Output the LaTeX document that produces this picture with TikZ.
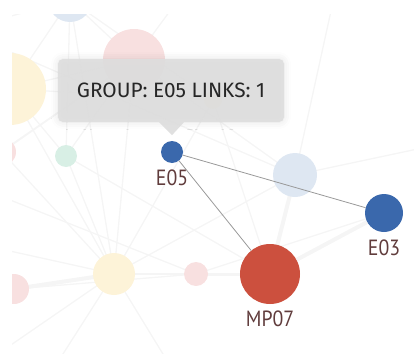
\documentclass[tikz,border=0pt]{standalone}
\usepackage{fontspec}
\setmainfont{Fira Sans}
\newfontfamily\lblfont[FakeStretch=0.9]{PT Sans}
\usetikzlibrary{positioning,calc,shadows.blur}
\definecolor{nblue}{RGB}{58,104,172}
\definecolor{nred}{RGB}{204,80,62}
\definecolor{fyellow}{RGB}{253,243,216}
\definecolor{fpink}{RGB}{248,224,224}
\definecolor{fblue}{RGB}{222,231,242}
\definecolor{fgreen}{RGB}{216,239,229}
\definecolor{tipgray}{RGB}{222,222,222}
\definecolor{lblcol}{RGB}{96,60,60}
\definecolor{fline}{RGB}{245,245,245}

\begin{document}
\begin{tikzpicture}[x=1pt, y=-1pt,
fnode/.style={circle, inner sep=0pt},
mnode/.style={circle, inner sep=0pt},
lbl/.style={font=\lblfont\fontsize{22}{22}\selectfont, text=lblcol, inner sep=0pt},
fedge/.style={draw=fline, line width=1.3pt},
link/.style={draw=black!40, line width=0.8pt},
tip/.style={fill=tipgray, fill opacity=0.93, text opacity=1, rounded corners=5pt, minimum width=226pt, minimum height=63pt, inner sep=0pt, font=\fontsize{20.8}{20.8}\selectfont, text=black!85, blur shadow={shadow xshift=0pt, shadow yshift=0pt, shadow blur radius=7pt, shadow opacity=12}}]
\useasboundingbox (0,0) rectangle (414,353);
\begin{scope}
\clip (12,15) rectangle (414,353);
% faded nodes behind the highlight
\coordinate (o1) at (-40,30);
\coordinate (o2) at (-40,240);
\coordinate (o3) at (40,390);
\coordinate (o4) at (185,390);
\coordinate (o5) at (340,-30);
\coordinate (o6) at (200,-30);
\coordinate (o7) at (-40,380);
\coordinate (o8) at (460,140);
\coordinate (o9) at (-40,180);
\coordinate (fa) at (70,0);
\coordinate (fb) at (134,60);
\coordinate (fc) at (10,89);
\coordinate (fd) at (2,152);
\coordinate (fe) at (66,156);
\coordinate (ff) at (213,100);
\coordinate (fg) at (295,175);
\coordinate (fh) at (114,274);
\coordinate (fi) at (196,274);
\coordinate (fj) at (14,289);
\coordinate (fm) at (270,274);
\coordinate (fn) at (384,213);
\foreach \s/\t in {fa/fc,fa/fb,fa/fe,fa/o1,fa/fh,fb/fc,fb/fe,fb/fh,fb/fg,fb/o9,fb/o6,fb/fd,
  fc/fh,fc/fe,fc/ff,fe/fh,fh/o2,fh/o3,fh/o4,fh/fi,fh/fg,fh/o7,fi/fj,fd/fh,fg/o5,fg/o8,
  ff/fm,ff/fh,fa/ff,fe/fm,o9/fi,o1/fg,fi/fn}
  \draw[fedge] (\s) -- (\t);
\draw[fedge, line width=4pt] (fh) -- (fj);
\draw[fedge, line width=4pt] (fg) -- (fm);
\draw[fedge, line width=4pt] (fm) -- (fn);
\draw[fedge, line width=3pt] (fi) -- (fm);
\node[fnode, fill=fblue, minimum size=44pt] at (fa) {};
\node[fnode, fill=fpink, minimum size=62pt] at (fb) {};
\node[fnode, fill=fyellow, minimum size=72pt] at (fc) {};
\node[fnode, fill=fpink, minimum size=28pt] at (fd) {};
\node[fnode, fill=fgreen, minimum size=22pt] at (fe) {};
\node[fnode, fill=fyellow, minimum size=18pt] at (ff) {};
\node[fnode, fill=fblue, minimum size=44pt] at (fg) {};
\node[fnode, fill=fyellow, minimum size=42pt] at (fh) {};
\node[fnode, fill=fpink, minimum size=24pt] at (fi) {};
\node[fnode, fill=fpink, minimum size=30pt] at (fj) {};
\end{scope}
% highlighted group
\node[mnode, fill=nblue, minimum size=22pt] (e05) at (172,152) {};
\node[mnode, fill=nblue, minimum size=38pt] (e03) at (384,213) {};
\node[mnode, fill=nred, minimum size=60pt] (mp07) at (270,274) {};
\draw[link] (e05) -- (e03);
\draw[link] (e05) -- (mp07);
\node[lbl, below=6pt of e05] (e05l) {E05};
\node[lbl, below=7pt of e03] (e03l) {E03};
\node[lbl, below=6pt of mp07] (mp07l) {MP07};
% tooltip
\node[tip] (tooltip) at (171,90.5) {GROUP: E05 LINKS: 1};
\fill[tipgray, fill opacity=0.93] ($(tooltip.south)+(-12,0)$) -- ($(tooltip.south)+(1,13)$) -- ($(tooltip.south)+(13,0)$) -- cycle;
\end{tikzpicture}
\end{document}
